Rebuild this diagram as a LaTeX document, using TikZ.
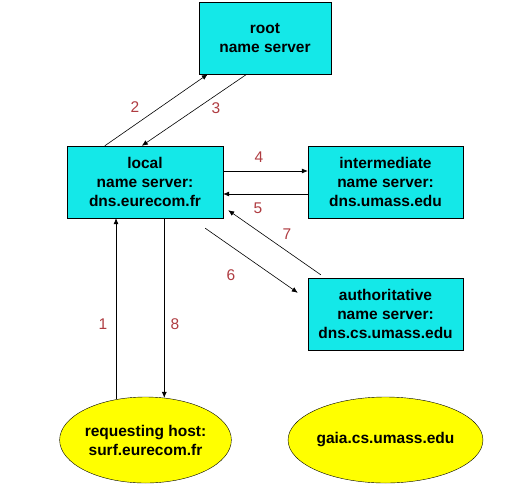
\documentclass[tikz,border=0pt]{standalone}
\usepackage{fontspec}
\setmainfont{Liberation Sans}
\usetikzlibrary{arrows.meta,shapes.geometric}

\definecolor{boxcyan}{RGB}{20,232,232}
\definecolor{hostyellow}{RGB}{255,255,0}
\definecolor{steplabel}{RGB}{175,60,65}

\tikzset{
  server/.style = {draw, fill=boxcyan, align=center, inner sep=0pt,
                   font=\fontsize{15.5}{19}\selectfont\bfseries},
  host/.style   = {draw, ellipse, fill=hostyellow, align=center, inner sep=0pt,
                   minimum width=155pt, minimum height=86pt,
                   font=\fontsize{15.5}{19}\selectfont\bfseries},
  query/.style  = {-{Latex[length=6pt,width=5pt]}, line width=0.6pt},
  steplbl/.style = {text=steplabel, font=\fontsize{15.5}{17}\selectfont}
}

\begin{document}
\begin{tikzpicture}[x=1pt, y=-1pt]
\useasboundingbox (0,0) rectangle (519,485);

% servers
\node [server, minimum width=132pt, minimum height=72pt] (root) at (265,38) {root\\name server};
\node [server, minimum width=156pt, minimum height=72pt] (local) at (145,182) {local\\name server:\\dns.eurecom.fr};
\node [server, minimum width=155pt, minimum height=72pt] (inter) at (385.5,182) {intermediate\\name server:\\dns.umass.edu};
\node [server, minimum width=155pt, minimum height=72pt] (auth) at (385.5,314) {authoritative\\name server:\\dns.cs.umass.edu};

% hosts
\node [host] (req) at (145.5,440) {requesting host:\\surf.eurecom.fr};
\node [host] (gaia) at (385.5,440) {gaia.cs.umass.edu};

% queries and replies
\draw [query] (req.126) -- (req.126 |- local.south);
\draw [query] ([xshift=38pt]local.north west) -- ([xshift=9pt]root.south west);
\draw [query] ([xshift=48pt]root.south west) -- ([xshift=75pt]local.north west);
\draw [query] ([yshift=11pt]local.east) -- ([yshift=11pt]inter.west);
\draw [query] ([yshift=-12pt]inter.west) -- ([yshift=-12pt]local.east);
\draw [query] ([xshift=-18pt,yshift=-10pt]local.south east) -- ([xshift=-10pt,yshift=-15pt]auth.north west);
\draw [query] ([xshift=13pt,yshift=3pt]auth.north west) -- ([xshift=5pt,yshift=8pt]local.south east);
\draw [query] (req.66 |- local.south) -- (req.66);

% step numbers
\node [steplbl] (l1) at (103,324) {1};
\node [steplbl] (l2) at (135,107) {2};
\node [steplbl] (l3) at (216,108) {3};
\node [steplbl] (l4) at (259,157) {4};
\node [steplbl] (l5) at (258,208) {5};
\node [steplbl] (l6) at (231,275) {6};
\node [steplbl] (l7) at (287,234) {7};
\node [steplbl] (l8) at (175,324) {8};
\end{tikzpicture}
\end{document}
